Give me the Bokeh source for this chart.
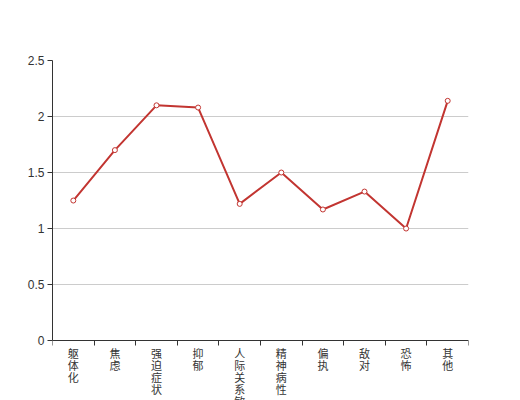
from bokeh.plotting import figure
from bokeh.models import ColumnDataSource, FixedTicker, Range1d
from bokeh.embed import file_html
from bokeh.resources import INLINE
from bokeh.core.properties import value

categories = ["躯体化", "焦虑", "强迫症状", "抑郁", "人际关系敏感", "精神病性", "偏执", "敌对", "恐怖", "其他"]
scores = [1.25, 1.70, 2.10, 2.08, 1.22, 1.50, 1.17, 1.33, 1.00, 2.14]
y_ticks = [0, 0.5, 1, 1.5, 2, 2.5]
y_tick_labels = ["0", "0.5", "1", "1.5", "2", "2.5"]

n = len(categories)
xs = [i + 0.5 for i in range(n)]
bounds = list(range(n + 1))

p = figure(width=520, height=400, output_backend="svg", toolbar_location=None,
           x_range=Range1d(0, n), y_range=Range1d(-0.535, 2.5),
           min_border_left=52, min_border_right=52, min_border_top=60, min_border_bottom=0)
p.outline_line_color = None
p.background_fill_color = "white"

# y axis
p.yaxis.ticker = FixedTicker(ticks=y_ticks)
p.yaxis.bounds = (0, 2.5)
p.yaxis.major_label_overrides = {t: l for t, l in zip(y_ticks, y_tick_labels)}
p.yaxis.axis_line_color = "#333333"
p.yaxis.major_tick_line_color = "#333333"
p.yaxis.major_tick_out = 5
p.yaxis.major_tick_in = 0
p.yaxis.minor_tick_line_color = None
p.yaxis.major_label_standoff = 3
p.yaxis.major_label_text_font = "Liberation Sans"
p.yaxis.major_label_text_font_size = "12px"
p.yaxis.major_label_text_color = "#333333"
p.ygrid.grid_line_color = "#cccccc"
p.ygrid.ticker = FixedTicker(ticks=y_ticks)

# x axis drawn at y=0 inside the frame, boundary ticks via minor ticks
p.xaxis.fixed_location = 0
p.xaxis.ticker = FixedTicker(ticks=[], minor_ticks=bounds)
p.xaxis.major_label_standoff = 0
p.xaxis.major_tick_line_color = None
p.xaxis.minor_tick_line_color = "#333333"
p.xaxis.minor_tick_out = 5
p.xaxis.minor_tick_in = 0
p.xaxis.axis_line_color = "#333333"
p.xgrid.grid_line_color = None

src = ColumnDataSource(dict(x=xs, y=scores))
p.line("x", "y", source=src, line_color="#c23531", line_width=2)
p.scatter("x", "y", source=src, size=5, fill_color="white", line_color="#c23531", line_width=1)

lab_src = ColumnDataSource(dict(x=xs, y=[0] * n, text=["\n".join(c) for c in categories]))
p.text("x", "y", text="text", source=lab_src, y_offset=4,
       text_align="center", text_baseline="top",
       text_font=value("Noto Sans CJK SC"), text_font_size="11px",
       text_color="#333333", text_line_height=0.76)

open("out.html", "w").write(file_html(p, INLINE))
